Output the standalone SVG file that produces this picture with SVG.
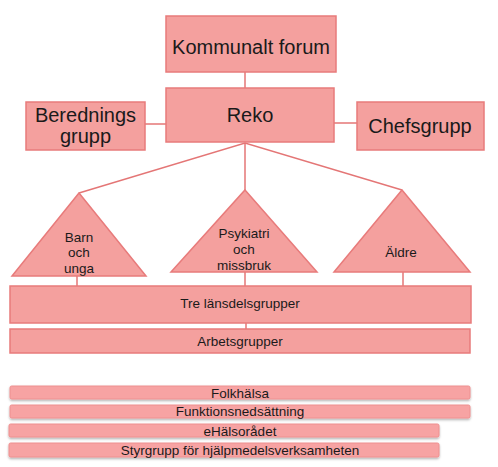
<svg xmlns="http://www.w3.org/2000/svg" width="498" height="467" viewBox="0 0 498 467">
<defs>
<filter id="sh" x="-5%" y="-30%" width="110%" height="180%">
<feDropShadow dx="0" dy="1.5" stdDeviation="1" flood-color="#000" flood-opacity="0.3"/>
</filter>
</defs>
<style>
.box{fill:#F4A09E;stroke:#E87B7B;stroke-width:1.5}
.bar{fill:#F7A3A3;stroke:#EE9090;stroke-width:1}
.ln{stroke:#E47676;stroke-width:1.5;fill:none}
text{font-family:"Liberation Sans",Arial,sans-serif;fill:#1a1a1a;text-anchor:middle}
.big{font-size:20px}
.sm{font-size:13.5px}
</style>
<rect width="498" height="467" fill="#fff"/>
<g id="connectors">
<line class="ln" x1="245" y1="72" x2="245" y2="88"/>
<line class="ln" x1="145" y1="124" x2="166" y2="124"/>
<line class="ln" x1="334" y1="123" x2="357" y2="123"/>
<polyline class="ln" points="79,193 245,143 402,190"/>
<line class="ln" x1="245" y1="143" x2="245" y2="190"/>
<line class="ln" x1="77" y1="276" x2="77" y2="286"/>
<line class="ln" x1="245" y1="272" x2="245" y2="286"/>
<line class="ln" x1="403" y1="272" x2="403" y2="286"/>
<line class="ln" x1="246" y1="323" x2="246" y2="329"/>
</g>
<g id="kommunalt-forum">
<rect class="box" x="166" y="16" width="170" height="56"/>
<text class="big" x="251" y="54">Kommunalt forum</text>
</g>
<g id="reko">
<rect class="box" x="166" y="88" width="168" height="54"/>
<text class="big" x="250" y="122">Reko</text>
</g>
<g id="beredningsgrupp">
<rect class="box" x="26" y="102" width="119" height="48"/>
<text class="big" x="85.5" y="122">Berednings</text>
<text class="big" x="85.5" y="143">grupp</text>
</g>
<g id="chefsgrupp">
<rect class="box" x="357" y="102" width="127" height="48"/>
<text class="big" x="420" y="133">Chefsgrupp</text>
</g>
<g id="barn-och-unga">
<polygon class="box" points="79,193 146,276 12,276"/>
<text class="sm" x="79" y="242">Barn</text>
<text class="sm" x="79" y="257">och</text>
<text class="sm" x="79" y="273">unga</text>
</g>
<g id="psykiatri">
<polygon class="box" points="245,190 317,272 171,272"/>
<text class="sm" x="244" y="238">Psykiatri</text>
<text class="sm" x="244" y="254">och</text>
<text class="sm" x="244" y="270">missbruk</text>
</g>
<g id="aldre">
<polygon class="box" points="402,190 470,272 334,272"/>
<text class="sm" x="401" y="257">Äldre</text>
</g>
<g id="tre-lansdelsgrupper">
<rect class="box" x="10" y="286" width="461" height="37"/>
<text class="sm" x="240" y="308">Tre länsdelsgrupper</text>
</g>
<g id="arbetsgrupper">
<rect class="box" x="10" y="329" width="460" height="24"/>
<text class="sm" x="240" y="346">Arbetsgrupper</text>
</g>
<g id="folkhalsa">
<rect class="bar" x="10" y="386" width="460" height="13" rx="1.5" filter="url(#sh)"/>
<text class="sm" x="240" y="398">Folkhälsa</text>
</g>
<g id="funktionsnedsattning">
<rect class="bar" x="10" y="405" width="460" height="13" rx="1.5" filter="url(#sh)"/>
<text class="sm" x="240" y="416">Funktionsnedsättning</text>
</g>
<g id="ehalsoradet">
<rect class="bar" x="9" y="424" width="430" height="13" rx="1.5" filter="url(#sh)"/>
<text class="sm" x="240" y="436">eHälsorådet</text>
</g>
<g id="styrgrupp">
<rect class="bar" x="9" y="443" width="430" height="14" rx="1.5" filter="url(#sh)"/>
<text class="sm" x="240" y="455">Styrgrupp för hjälpmedelsverksamheten</text>
</g>
</svg>
